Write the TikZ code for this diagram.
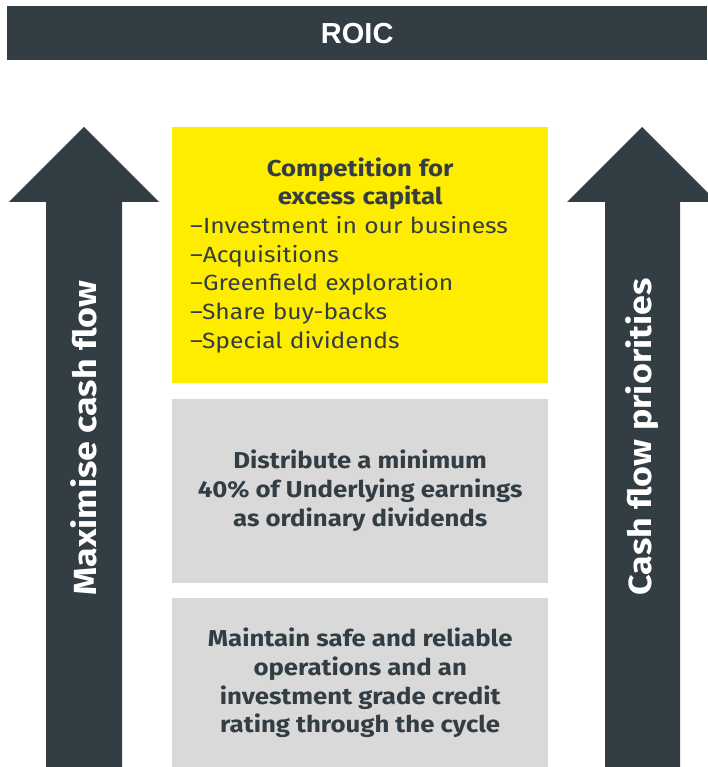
\documentclass[tikz,border=0pt]{standalone}
\usepackage{xcolor}
\usepackage{fontspec}
\setmainfont[FakeStretch=1.12]{Fira Sans}
\newfontfamily\roicfont{Liberation Sans}
\usepackage{tikz}
\usetikzlibrary{positioning}
\definecolor{slate}{HTML}{333D44}
\definecolor{eyyellow}{HTML}{FFED00}
\definecolor{boxgrey}{HTML}{D9D9D9}
\tikzstyle{banner} = [rectangle, minimum width=700pt, minimum height=54pt, inner sep=0pt, fill=slate, text=white, font=\roicfont\bfseries\fontsize{29}{30}\selectfont]
\tikzstyle{panel} = [rectangle, minimum width=376pt, inner sep=0pt, text=slate, align=center, font=\fontsize{22}{28.7}\selectfont]
\tikzstyle{bigarrow} = [fill=slate, draw=none]
\tikzstyle{arrowtext} = [rotate=90, text=white, font=\bfseries\fontsize{32}{34}\selectfont]

\begin{document}
\begin{tikzpicture}[x=1pt,y=1pt,node distance=15pt]
      \useasboundingbox (0,0) rectangle (707,767);
      \node (roic) [banner, anchor=north west] at (7,761) {ROIC};

      % the three panels, stacked
      \node (compete) [panel, fill=eyyellow, minimum height=256pt, text width=340pt, align=left, anchor=north west] at (172,640)
        {{\centering\bfseries\fontsize{23}{28.7}\selectfont Competition for\\ excess capital\par}
         –Investment in our business\\
         –Acquisitions\\
         –Greenfield exploration\\
         –Share buy-backs\\
         –Special dividends};
      \node (dividend) [panel, fill=boxgrey, minimum height=184pt, below=of compete, font=\bfseries\fontsize{23}{28.7}\selectfont]
        {Distribute a minimum\\ 40\% of Underlying earnings\\ as ordinary dividends};
      \node (safety) [panel, fill=boxgrey, minimum height=170pt, below=of dividend, font=\bfseries\fontsize{23}{28.7}\selectfont]
        {Maintain safe and reliable\\ operations and an\\ investment grade credit\\ rating through the cycle};

      % side arrows
      \fill [bigarrow] (46,0) -- (46,565) -- (9,565) -- (84,640) -- (159,565) -- (122,565) -- (122,0) -- cycle;
      \fill [bigarrow] (605,0) -- (605,565) -- (567,565) -- (642,640) -- (717,565) -- (680,565) -- (680,0) -- cycle;
      \node (maxcash) [arrowtext] at (84,329) {Maximise cash flow};
      \node (priority) [arrowtext] at (642,330) {Cash flow priorities};

    \end{tikzpicture}
\end{document}
